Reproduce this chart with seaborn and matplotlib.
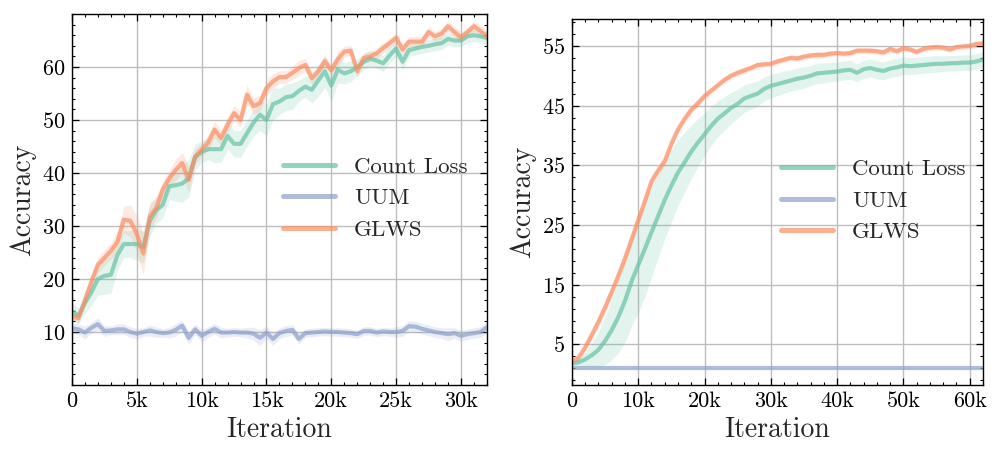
import numpy as np
import seaborn as sns
import matplotlib
import matplotlib.pyplot as plt
from matplotlib.ticker import FuncFormatter, MultipleLocator, AutoMinorLocator

# Data: left panel (every 500 iterations) --------------------------------------
iter_left = np.arange(0, 32001, 500)

glws_left = [13.0, 12.6, 16.0, 19.5, 22.7, 24.0, 25.3, 27.0, 31.2, 31.0,
             28.5, 24.8, 31.8, 33.4, 36.9, 39.0, 40.6, 41.9, 38.7, 43.1,
             44.4, 45.7, 48.2, 46.6, 49.1, 51.3, 50.0, 54.8, 52.6, 53.2,
             56.0, 57.3, 58.1, 58.1, 58.9, 59.8, 60.4, 57.9, 59.2, 61.1,
             59.4, 61.5, 62.9, 63.1, 59.2, 61.7, 62.0, 62.6, 63.6, 64.5,
             65.5, 63.3, 64.8, 64.8, 64.8, 66.6, 65.8, 66.3, 67.7, 66.6,
             65.6, 66.6, 67.7, 66.8, 65.8]
count_left = [14.0, 13.0, 15.5, 17.5, 20.0, 20.6, 20.8, 24.5, 26.6, 26.6,
              26.6, 26.0, 31.0, 33.0, 34.0, 37.5, 37.7, 38.0, 39.0, 43.0,
              44.0, 44.5, 44.5, 44.5, 47.0, 45.5, 45.5, 47.5, 49.5, 51.0,
              50.0, 53.0, 53.5, 54.3, 54.5, 55.5, 56.3, 55.7, 57.5, 59.2,
              56.5, 59.5, 58.8, 59.2, 60.0, 61.0, 61.6, 61.2, 60.7, 62.2,
              63.5, 61.0, 63.2, 63.5, 63.8, 64.0, 64.3, 64.5, 65.3, 65.0,
              65.0, 65.8, 66.0, 65.8, 65.5]
uum_left = [10.7, 10.5, 9.9, 10.8, 11.5, 10.2, 10.3, 10.5, 10.5, 10.0,
            9.7, 10.0, 10.3, 10.0, 9.8, 9.9, 10.4, 11.2, 8.9, 10.5,
            9.3, 10.0, 10.6, 9.9, 9.9, 10.0, 9.9, 9.9, 9.7, 8.9,
            9.9, 8.7, 9.8, 10.2, 10.4, 8.7, 9.8, 9.9, 10.0, 10.1,
            10.0, 10.0, 9.9, 9.8, 9.6, 10.2, 10.2, 9.9, 10.1, 10.0,
            10.0, 10.2, 11.1, 11.0, 10.6, 10.3, 10.0, 9.8, 9.6, 9.8,
            9.3, 9.6, 9.8, 10.0, 10.9]

glws_left_std = [1.0, 1.0, 1.2, 1.5, 1.5, 1.5, 1.5, 2.0, 2.5, 3.0,
                 3.5, 4.0, 2.5, 2.0, 1.5, 1.5, 2.0, 2.0, 2.5, 1.5,
                 1.2, 1.5, 1.5, 1.5, 1.5, 1.5, 1.5, 1.8, 1.5, 1.5,
                 1.5, 1.5, 1.2, 1.2, 1.2, 1.5, 1.2, 1.2, 1.0, 1.0,
                 1.0, 1.5, 1.0, 1.0, 1.2, 1.0, 1.0, 1.0, 1.0, 1.0,
                 1.0, 1.0, 1.0, 1.0, 1.0, 1.0, 1.0, 1.0, 1.0, 1.0,
                 1.0, 1.0, 1.0, 1.0, 1.0]
count_left_std = [1.5, 1.5, 2.0, 2.5, 3.0, 3.5, 3.5, 3.0, 2.5, 2.5,
                  3.0, 3.0, 3.0, 2.5, 2.5, 2.5, 3.0, 3.5, 3.5, 2.5,
                  2.0, 2.0, 2.5, 2.5, 2.5, 2.5, 2.5, 2.5, 2.5, 3.0,
                  3.0, 3.0, 2.5, 2.5, 2.5, 2.0, 2.0, 2.5, 3.0, 3.0,
                  3.0, 2.5, 2.0, 2.0, 1.5, 1.5, 1.5, 1.5, 1.5, 1.5,
                  1.5, 1.5, 1.2, 1.2, 1.2, 1.2, 1.2, 1.2, 1.2, 1.2,
                  1.2, 1.2, 1.2, 1.2, 1.2]
uum_left_std = [1.0, 1.0, 1.2, 1.0, 1.2, 1.0, 0.8, 1.0, 1.0, 1.0,
                1.0, 0.8, 1.0, 1.0, 0.8, 1.0, 1.2, 1.0, 1.2, 1.0,
                1.2, 1.0, 1.0, 1.0, 0.8, 0.8, 0.8, 1.0, 1.2, 1.5,
                1.2, 1.2, 1.0, 1.0, 1.0, 1.0, 0.8, 0.8, 0.8, 0.8,
                0.8, 0.8, 0.8, 0.8, 0.8, 0.8, 0.8, 0.8, 0.8, 0.8,
                1.0, 1.0, 1.0, 1.0, 1.0, 1.0, 1.0, 1.0, 1.2, 1.0,
                1.0, 1.0, 1.0, 1.0, 1.2]

# Data: right panel (every 1000 iterations) ------------------------------------
iter_right = np.arange(0, 62001, 1000)

glws_right = [2.1, 2.8, 4.5, 6.6, 8.8, 11.2, 13.8, 16.5, 19.4, 22.6,
              25.8, 29.0, 32.3, 34.1, 35.7, 38.6, 41.0, 42.8, 44.3, 45.4,
              46.6, 47.5, 48.4, 49.3, 50.0, 50.5, 50.9, 51.3, 51.8, 51.9,
              52.0, 52.4, 52.7, 53.0, 52.9, 53.2, 53.4, 53.5, 53.5, 53.7,
              53.8, 53.7, 53.8, 54.2, 54.2, 54.2, 54.1, 53.9, 54.5, 54.1,
              54.6, 54.4, 54.0, 54.5, 54.7, 54.8, 54.7, 54.4, 54.8, 54.9,
              55.0, 55.3, 55.4]
count_right = [1.8, 2.0, 2.5, 3.2, 4.1, 5.6, 7.4, 9.6, 12.3, 15.6,
               18.3, 21.0, 23.8, 26.5, 29.2, 31.6, 33.8, 35.5, 37.3, 38.8,
               40.2, 41.6, 42.8, 43.7, 44.6, 45.3, 46.2, 46.6, 47.0, 47.8,
               48.3, 48.6, 48.9, 49.2, 49.5, 49.7, 50.0, 50.4, 50.5, 50.6,
               50.7, 50.9, 51.0, 50.5, 51.1, 51.3, 51.0, 50.8, 51.2, 51.4,
               51.7, 51.6, 51.7, 51.8, 51.9, 52.0, 52.0, 52.1, 52.1, 52.2,
               52.2, 52.4, 52.7]
uum_right = [1.0, 1.0, 1.0, 1.0, 1.0, 1.0, 1.0, 1.0, 1.0, 1.0,
             1.0, 1.0, 1.0, 1.0, 1.0, 1.0, 1.0, 1.0, 1.0, 1.0,
             1.0, 1.0, 1.0, 1.0, 1.0, 1.0, 1.0, 1.0, 1.0, 1.0,
             1.0, 1.0, 1.0, 1.0, 1.0, 1.0, 1.0, 1.0, 1.0, 1.0,
             1.0, 1.0, 1.0, 1.0, 1.0, 1.0, 1.0, 1.0, 1.0, 1.0,
             1.0, 1.0, 1.0, 1.0, 1.0, 1.0, 1.0, 1.0, 1.0, 1.0,
             1.0, 1.0, 1.0]

glws_right_std = [0.3, 0.4, 0.6, 0.8, 0.9, 1.0, 1.0, 1.0, 1.0, 1.0,
                  1.0, 0.9, 0.8, 0.8, 0.7, 0.7, 0.6, 0.6, 0.6, 0.6,
                  0.5, 0.5, 0.5, 0.5, 0.5, 0.5, 0.5, 0.5, 0.5, 0.5,
                  0.5, 0.5, 0.5, 0.5, 0.5, 0.5, 0.5, 0.5, 0.5, 0.5,
                  0.5, 0.5, 0.5, 0.5, 0.5, 0.5, 0.5, 0.5, 0.5, 0.5,
                  0.5, 0.5, 0.5, 0.5, 0.5, 0.5, 0.5, 0.5, 0.5, 0.5,
                  0.5, 0.6, 0.6]
count_right_std = [0.3, 0.6, 1.2, 2.0, 3.0, 4.0, 5.0, 6.0, 7.0, 7.5,
                   8.0, 8.0, 7.5, 7.0, 6.5, 6.0, 5.5, 5.0, 4.5, 4.0,
                   3.6, 3.3, 3.0, 2.8, 2.6, 2.4, 2.3, 2.2, 2.1, 2.0,
                   2.0, 1.9, 1.9, 1.8, 1.8, 1.8, 1.7, 1.7, 1.7, 1.6,
                   1.6, 1.6, 1.6, 1.5, 1.5, 1.5, 1.5, 1.5, 1.5, 1.5,
                   1.5, 1.4, 1.4, 1.4, 1.4, 1.4, 1.3, 1.3, 1.3, 1.3,
                   1.3, 1.3, 1.3]
uum_right_std = [0.1] * len(iter_right)

# Style ------------------------------------------------------------------------
sns.set_theme(style="ticks")
plt.rcParams.update({
    "font.family": "serif",
    "font.serif": ["cmr10", "DejaVu Serif"],
    "mathtext.fontset": "cm",
    "axes.formatter.use_mathtext": True,
    "axes.edgecolor": "black",
    "axes.linewidth": 1.0,
    "xtick.color": "black",
    "ytick.color": "black",
})

palette = sns.color_palette("Set2", 3)
colors = {"Count Loss": palette[0], "UUM": palette[2], "GLWS": palette[1]}

fig = plt.figure(figsize=(9.98, 4.5), dpi=100)
ax_l = fig.add_axes([0.0721, 0.1444, 0.4158, 0.8244])
ax_r = fig.add_axes([0.5731, 0.1444, 0.4118, 0.8133])

k_fmt = FuncFormatter(lambda v, p: "0" if v == 0 else f"{int(round(v / 1000))}k")


def draw(ax, x, series, xlim, ylim, xmajor, xminor, yticks, yminor):
    for name, mean, std in series:
        mean = np.asarray(mean)
        std = np.asarray(std)
        ax.fill_between(x, mean - std, mean + std, color=colors[name], alpha=0.18, lw=0)
        sns.lineplot(x=x, y=mean, ax=ax, color=colors[name], lw=3.0, alpha=0.7, label=name)
    ax.set_xlim(*xlim)
    ax.set_ylim(*ylim)
    ax.xaxis.set_major_locator(MultipleLocator(xmajor))
    ax.xaxis.set_minor_locator(MultipleLocator(xminor))
    ax.xaxis.set_major_formatter(k_fmt)
    ax.set_yticks(yticks)
    ax.yaxis.set_minor_locator(yminor)
    ax.grid(True, which="major", color="#bdbdbd", lw=1.0)
    ax.tick_params(which="both", direction="in", top=True, right=True, labelsize=16, pad=5)
    ax.tick_params(which="major", length=5, width=0.9)
    ax.tick_params(which="minor", length=2.5, width=0.8)
    ax.set_xlabel("Iteration", fontsize=20, labelpad=4)
    ax.set_ylabel("Accuracy", fontsize=20, labelpad=4)
    handles, labels = ax.get_legend_handles_labels()
    leg = ax.legend(handles, labels, loc="center left", bbox_to_anchor=(0.508, 0.503),
                    frameon=False, fontsize=16.5, handlelength=2.3, handletextpad=0.8,
                    labelspacing=0.5, borderpad=0, borderaxespad=0)
    for line in leg.get_lines():
        line.set_linewidth(3.6)
        line.set_alpha(0.7)


draw(ax_l, iter_left,
     [("Count Loss", count_left, count_left_std),
      ("UUM", uum_left, uum_left_std),
      ("GLWS", glws_left, glws_left_std)],
     (0, 32000), (0, 70), 5000, 1000, [10, 20, 30, 40, 50, 60], MultipleLocator(2))

draw(ax_r, iter_right,
     [("Count Loss", count_right, count_right_std),
      ("UUM", uum_right, uum_right_std),
      ("GLWS", glws_right, glws_right_std)],
     (0, 62000), (-1.8, 59.5), 10000, 2000, [5, 15, 25, 35, 45, 55], AutoMinorLocator(5))

fig.savefig("out.png", dpi=100)
